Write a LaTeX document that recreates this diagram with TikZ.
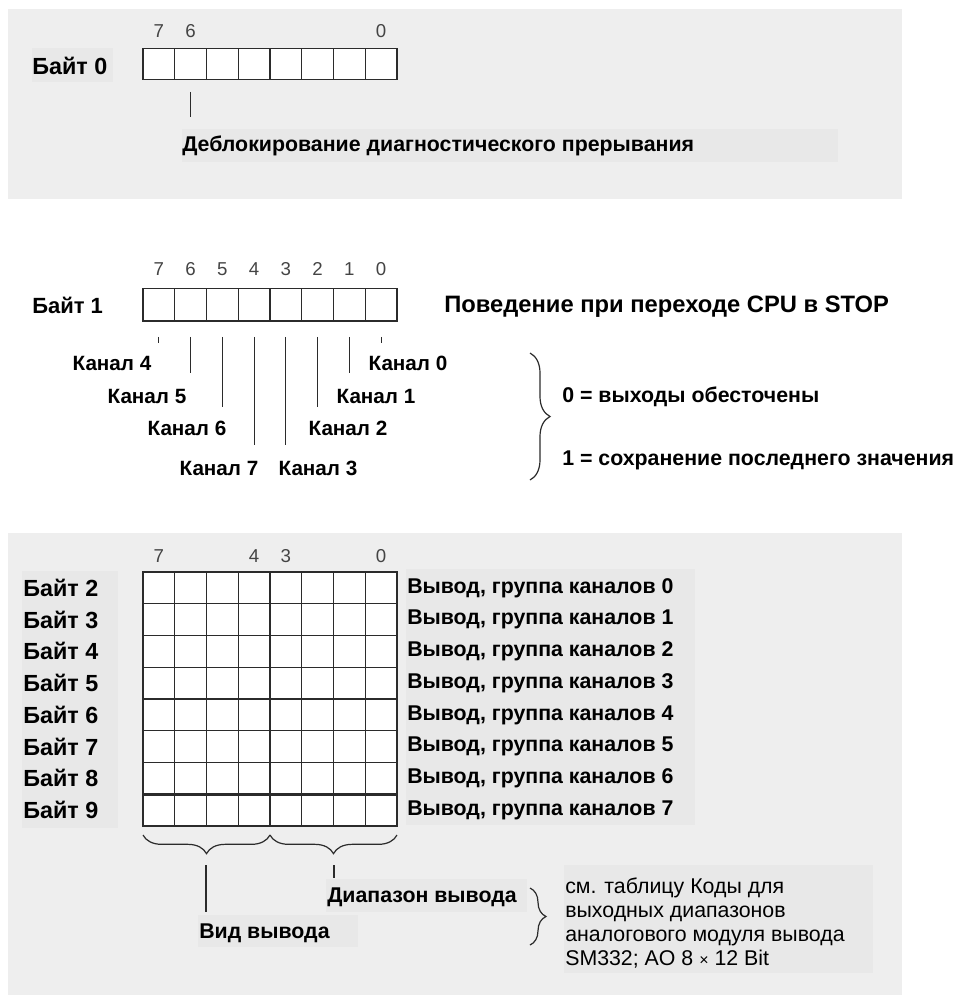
\documentclass[tikz,border=0pt]{standalone}
\usepackage{fontspec}
\setmainfont{Liberation Sans}
\usetikzlibrary{positioning, calc, decorations.pathreplacing}
\definecolor{panelbg}{HTML}{EEEEEE}
\definecolor{labelbg}{HTML}{E8E8E8}
\definecolor{gridline}{HTML}{2B2B2B}
\definecolor{bitnum}{HTML}{444444}
\tikzset{
  cell/.style={draw=gridline, fill=white, line width=0.9pt, minimum width=23.8pt, minimum height=23.8pt, inner sep=0pt, outer sep=0pt},
  bitno/.style={text=bitnum, font=\fontsize{14}{16}\selectfont, inner sep=0pt, text height=10pt, text depth=0pt},
  lbl/.style={font=\bfseries\fontsize{16}{19}\selectfont, inner sep=0pt, anchor=west},
  bytelbl/.style={lbl, font=\bfseries\fontsize{17.5}{20}\selectfont},
  chlbl/.style={lbl, anchor=center, font=\bfseries\fontsize{15.5}{18}\selectfont},
  note/.style={font=\fontsize{16}{18.2}\selectfont, align=left, inner sep=0pt, anchor=west},
  tick/.style={draw=gridline, line width=0.9pt},
  brc/.style={draw=gridline, line width=0.9pt, decorate, decoration={brace, amplitude=#1}},
  brc/.default=15pt,
}

\begin{document}
\begin{tikzpicture}[x=0.75pt, y=-0.75pt]
    \useasboundingbox (0,0) rectangle (960,997);
    % panels
    \fill[panelbg] (8,9) rectangle (902,199);
    \fill[panelbg] (8,533) rectangle (902,995);

    % byte 0
    \fill[labelbg] (32,48) rectangle (113,82);
    \node[bytelbl] (byte0) at (32,66) {Байт 0};
    \foreach \i in {0,...,7}
      \node[cell] (c0-\i) at ({143+31.75*(7.5-\i)},64) {};
    \foreach \i in {7,6,0}
      \node[bitno, above=7.5pt of c0-\i] (n0-\i) {\i};
    \fill[labelbg] (182,129) rectangle (838,162);
    \node[lbl] (unlock) at (182,146) {Деблокирование диагностического прерывания};
    \coordinate (u0) at ($(c0-6.south)+(0,12)$);
    \coordinate (u1) at ($(c0-6.south)+(0,37)$);
    \draw[tick] (u0) -- (u1);

    % byte 1
    \node[bytelbl, font=\bfseries\fontsize{16.5}{19}\selectfont] (byte1) at (32,305) {Байт 1};
    \foreach \i in {0,...,7} {
      \node[cell, minimum height=24.6pt] (c1-\i) at ({143+31.75*(7.5-\i)},304.5) {};
      \node[bitno, above=9.5pt of c1-\i] (n1-\i) {\i};
    }
    \node[lbl, font=\bfseries\fontsize{17.8}{20}\selectfont] (stop) at (444,307) {Поведение при переходе CPU в STOP};
    \foreach \i/\len in {7/22,6/52,5/86,4/124,3/124,2/86,1/52,0/22} {
      \coordinate (s\i) at ($(c1-\i.south)+(0,16)$);
      \coordinate (e\i) at ($(c1-\i.south)+(0,\len)$);
      \draw[tick] (s\i) -- (e\i);
    }
    \foreach \k/\x/\y in {4/112/363,5/147/396,6/187/428,7/219/468,3/318/468,2/348/428,1/376/396,0/408/363}
      \node[chlbl] (ch\k) at (\x,\y) {Канал \k};
    \coordinate (bt) at (530,353);
    \coordinate (bb) at (530,480);
    \draw[brc] (bt) -- (bb);
    \node[lbl] (zero) at (562,397) {0 = выходы обесточены};
    \node[lbl] (one) at (562,460) {1 = сохранение последнего значения};

    % bytes 2..9
    \fill[labelbg] (22,571) rectangle (118,828);
    \fill[labelbg] (406,569) rectangle (695,825);
    \foreach \r in {0,...,7} {
      \pgfmathtruncatemacro\b{\r+2}
      \node[bytelbl] (byte\b) at (23,{572+31.75*(\r+0.5)}) {Байт \b};
      \node[lbl] (out\r) at (407,{572+31.75*(\r+0.5)}) {Вывод, группа каналов \r};
      \foreach \i in {0,...,7}
        \node[cell] (g\r-\i) at ({143+31.75*(7.5-\i)},{572+31.75*(\r+0.5)}) {};
    }
    \draw[gridline, line width=2pt] (g6-7.south west) -- (g6-0.south east);
    \foreach \i in {7,4,3,0}
      \node[bitno, above=7pt of g0-\i] (n2-\i) {\i};

    \coordinate (bl) at ($(g7-7.south west)+(0,9)$);
    \coordinate (bm) at ($(g7-4.south east)+(0,9)$);
    \coordinate (br) at ($(g7-0.south east)+(0,9)$);
    \draw[brc=14pt, decoration={mirror}] (bl) -- (bm);
    \draw[brc=14pt, decoration={mirror}] (bm) -- (br);
    \coordinate (k0) at (206,865);
    \coordinate (k1) at (206,912);
    \coordinate (r0) at (334,865);
    \coordinate (r1) at (334,878);
    \draw[tick] (k0) -- (k1);
    \draw[tick] (r0) -- (r1);
    \fill[labelbg] (326,879) rectangle (527,912);
    \node[lbl] (range) at (327,897) {Диапазон вывода};
    \fill[labelbg] (198,915) rectangle (358,947);
    \node[lbl] (kind) at (199,933) {Вид вывода};
    \coordinate (st) at (530,888);
    \coordinate (sb) at (530,945);
    \draw[brc=12pt] (st) -- (sb);
    \fill[labelbg] (564,865) rectangle (873,973);
    \node[note] (codes) at (565,923) {см. таблицу Коды для\\выходных диапазонов\\аналогового модуля вывода\\SM332; AO 8 {\fontsize{12}{14}\selectfont ×} 12 Bit};
  \end{tikzpicture}
\end{document}
